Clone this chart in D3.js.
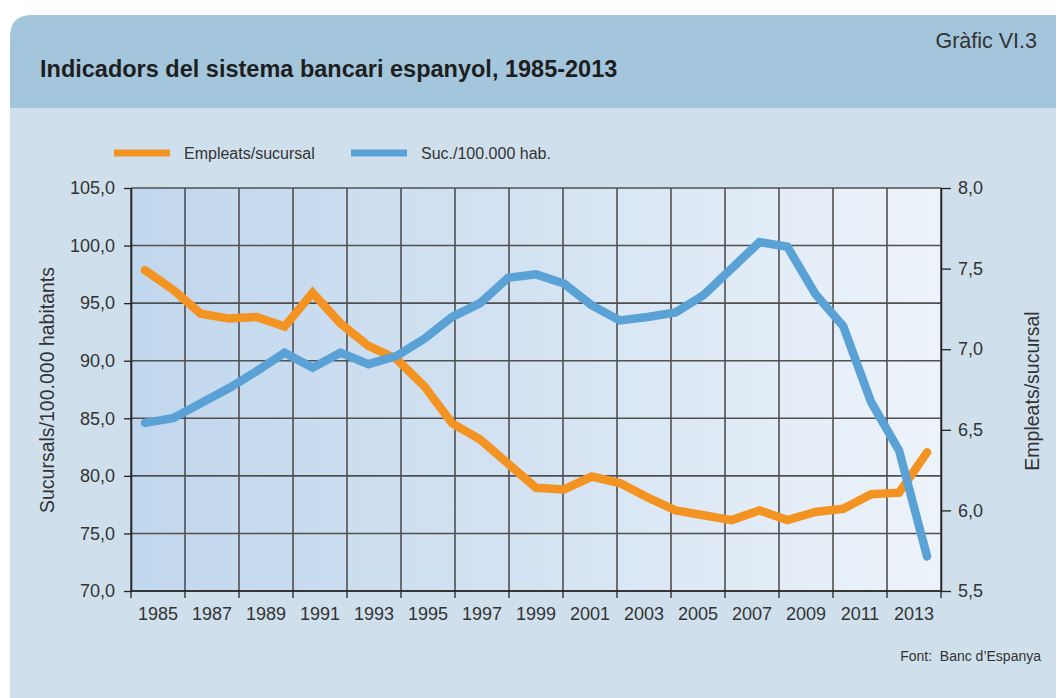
<!DOCTYPE html>
<html>
<head>
<meta charset="utf-8">
<script src="https://cdn.jsdelivr.net/npm/d3@7"></script>
<style>
  html, body { margin: 0; padding: 0; background: #ffffff; }
  svg { display: block; }
  text { font-family: "Liberation Sans", Arial, Helvetica, sans-serif; }
</style>
</head>
<body>
<svg id="chart" width="1056" height="698"></svg>
<script>
// ---- data ----
const years = [1985, 1986, 1987, 1988, 1989, 1990, 1991, 1992, 1993, 1994,
               1995, 1996, 1997, 1998, 1999, 2000, 2001, 2002, 2003, 2004,
               2005, 2006, 2007, 2008, 2009, 2010, 2011, 2012, 2013];
const labelYears = [1985, 1987, 1989, 1991, 1993, 1995, 1997, 1999, 2001,
                    2003, 2005, 2007, 2009, 2011, 2013];
// Sucursals per 100.000 habitants (left axis)
const sucursals = [84.6, 85.0, 86.3, 87.6, 89.1, 90.7, 89.4, 90.7, 89.7, 90.4,
                   91.9, 93.8, 95.0, 97.2, 97.5, 96.7, 94.8, 93.5, 93.8, 94.2,
                   95.7, 98.0, 100.3, 99.9, 95.8, 93.0, 86.4, 82.2, 73.0];
// Empleats per sucursal (right axis)
const empleats = [7.49, 7.37, 7.22, 7.19, 7.20, 7.14, 7.35, 7.16, 7.02, 6.94,
                  6.77, 6.54, 6.44, 6.29, 6.14, 6.13, 6.21, 6.17, 6.08, 6.00,
                  5.97, 5.94, 6.00, 5.94, 5.99, 6.01, 6.10, 6.11, 6.36];
const leftTicks = [70, 75, 80, 85, 90, 95, 100, 105];
const rightTicks = [5.5, 6.0, 6.5, 7.0, 7.5, 8.0];
const seriesNames = ["Empleats/sucursal", "Suc./100.000 hab."];

// ---- layout ----
const svg = d3.select("#chart");
const L = 131, R = 941, T = 188, B = 591;
const ORANGE = "#f39322", BLUE = "#5aa2d6";
const fmt = d => d.toFixed(1).replace(".", ",");

// background panels
svg.append("rect").attr("x", 10).attr("y", 108).attr("width", 1046).attr("height", 590).attr("fill", "#cfe0ec");
const r = 22;
svg.append("path")
  .attr("d", `M10,108 L10,${15 + r} Q10,15 ${10 + r},15 L1056,15 L1056,108 Z`)
  .attr("fill", "#a3c6dc");

svg.append("text").attr("x", 40).attr("y", 77)
  .attr("font-size", 23.5).attr("font-weight", "bold").attr("fill", "#1e1e1e")
  .text("Indicadors del sistema bancari espanyol, 1985-2013");
svg.append("text").attr("x", 1037).attr("y", 48).attr("text-anchor", "end")
  .attr("font-size", 21.5).attr("fill", "#333")
  .text("Gràfic VI.3");

// scales
const x = d3.scalePoint().domain(years).range([L, R]).padding(0.5);
const xBand = d3.scaleBand().domain(labelYears).range([L, R]);
const yL = d3.scaleLinear().domain([70, 105]).range([B, T]);
const yR = d3.scaleLinear().domain([5.5, 8.0]).range([B, T]);

// plot background gradient
const defs = svg.append("defs");
const grad = defs.append("linearGradient").attr("id", "bg").attr("x1", "0").attr("x2", "1").attr("y1", "0").attr("y2", "0");
grad.append("stop").attr("offset", "0%").attr("stop-color", "#c1d7ed");
grad.append("stop").attr("offset", "50%").attr("stop-color", "#d4e3f2");
grad.append("stop").attr("offset", "100%").attr("stop-color", "#edf3fa");
svg.append("rect").attr("x", L).attr("y", T).attr("width", R - L).attr("height", B - T).attr("fill", "url(#bg)");

// grid
const edges = labelYears.map(d => xBand(d)).concat([R]);
svg.append("g").selectAll("line").data(leftTicks).join("line")
  .attr("x1", L).attr("x2", R).attr("y1", d => yL(d)).attr("y2", d => yL(d))
  .attr("stroke", "#505050").attr("stroke-width", 1.6);
svg.append("g").selectAll("line").data(edges).join("line")
  .attr("x1", d => d).attr("x2", d => d).attr("y1", T).attr("y2", B)
  .attr("stroke", "#505050").attr("stroke-width", 1.6);

// axes
const axL = svg.append("g").attr("transform", `translate(${L},0)`)
  .call(d3.axisLeft(yL).tickValues(leftTicks).tickFormat(fmt).tickSize(7).tickPadding(9).tickSizeOuter(0));
const axR = svg.append("g").attr("transform", `translate(${R},0)`)
  .call(d3.axisRight(yR).tickValues(rightTicks).tickFormat(fmt).tickSize(10).tickPadding(7).tickSizeOuter(0));
const axB = svg.append("g").attr("transform", `translate(0,${B})`)
  .call(d3.axisBottom(xBand).tickSize(0).tickPadding(16));
axB.select(".domain").remove();
svg.append("g").selectAll("line").data(edges).join("line")
  .attr("x1", d => d).attr("x2", d => d).attr("y1", B).attr("y2", B + 7)
  .attr("stroke", "#222").attr("stroke-width", 1.3);
svg.append("line").attr("x1", L).attr("x2", R).attr("y1", B).attr("y2", B)
  .attr("stroke", "#222").attr("stroke-width", 1.5);
[axL, axR, axB].forEach(g => {
  g.selectAll("text").attr("font-size", 18).attr("fill", "#333")
    .style("font-family", "'Liberation Sans', Arial, sans-serif");
  g.selectAll("line").attr("stroke", "#222").attr("stroke-width", 1.3);
  g.select(".domain").attr("stroke", "#222").attr("stroke-width", 1.5);
});

// axis titles
svg.append("text").attr("transform", "translate(47,390) rotate(-90)")
  .attr("text-anchor", "middle").attr("dy", "0.35em")
  .attr("font-size", 19.5).attr("fill", "#333").text("Sucursals/100.000 habitants");
svg.append("text").attr("transform", "translate(1032,391) rotate(-90)")
  .attr("text-anchor", "middle").attr("dy", "0.35em")
  .attr("font-size", 19.5).attr("fill", "#333").text("Empleats/sucursal");

// lines
const lineR = d3.line().x((d, i) => x(years[i])).y(d => yR(d));
const lineL = d3.line().x((d, i) => x(years[i])).y(d => yL(d));
svg.append("path").datum(empleats).attr("d", lineR)
  .attr("fill", "none").attr("stroke", ORANGE).attr("stroke-width", 8.5)
  .attr("stroke-linecap", "round").attr("stroke-linejoin", "miter");
svg.append("path").datum(sucursals).attr("d", lineL)
  .attr("fill", "none").attr("stroke", BLUE).attr("stroke-width", 8.5)
  .attr("stroke-linecap", "round").attr("stroke-linejoin", "miter");

// legend
const legend = [
  { name: seriesNames[0], color: ORANGE, x: 114 },
  { name: seriesNames[1], color: BLUE, x: 351 }
];
const lg = svg.append("g").selectAll("g").data(legend).join("g");
lg.append("line").attr("x1", d => d.x).attr("x2", d => d.x + 56).attr("y1", 153).attr("y2", 153)
  .attr("stroke", d => d.color).attr("stroke-width", 7);
lg.append("text").attr("x", d => d.x + 70).attr("y", 153).attr("dy", "0.35em")
  .attr("font-size", 16).attr("fill", "#333").text(d => d.name);

// source
svg.append("text").attr("x", 1041).attr("y", 661).attr("text-anchor", "end")
  .attr("font-size", 14).attr("fill", "#333").style("white-space", "pre")
  .text("Font:  Banc d’Espanya");
</script>
</body>
</html>
